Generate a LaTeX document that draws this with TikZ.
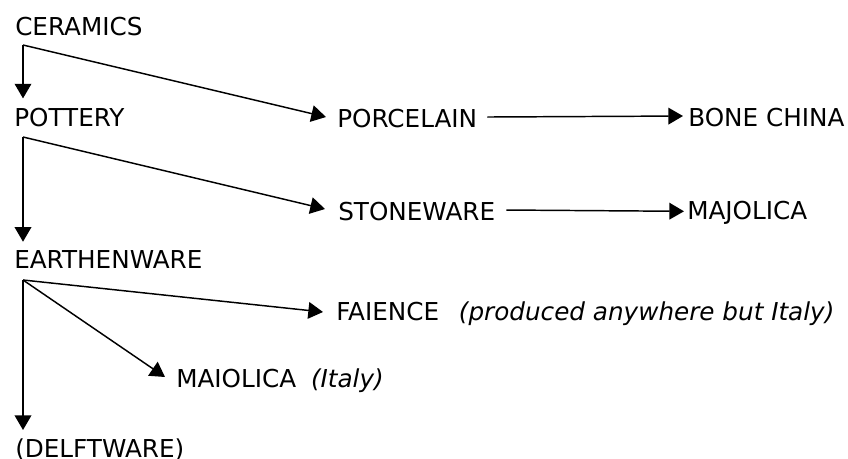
\documentclass[tikz,border=0pt]{standalone}
\usepackage{fontspec}
\setmainfont{DejaVu Sans}
\usetikzlibrary{arrows.meta,calc}
\tikzset{
  term/.style={anchor=base west, inner sep=0pt, font=\fontsize{18.5}{22}\selectfont},
  arr/.style={-{Triangle[length=11pt, width=12.5pt]}, line width=1.1pt}
}

\begin{document}
\begin{tikzpicture}[x=0.75pt, y=-0.75pt]
\useasboundingbox (0,0) rectangle (848,459);
% left column
\node[term] (cer) at (15,36) {CERAMICS};
\node[term] (pot) at (14,127) {POTTERY};
\node[term] (earth) at (14,268) {EARTHENWARE};
\node[term] (delft) at (15,457) {(DELFTWARE)};
% branches
\node[term] (por) at (337,128) {PORCELAIN};
\node[term] (bone) at (688,127) {BONE CHINA};
\node[term] (stone) at (338,221) {STONEWARE};
\node[term] (maj) at (687,220) {MAJOLICA};
\node[term] (fai) at (336,320) {FAIENCE\hspace{0.8em}\textit{(produced anywhere but Italy)}};
\node[term] (mai) at (176,387) {MAIOLICA\hspace{0.6em}\textit{(Italy)}};
% corners the arrows leave from
\coordinate (cer-o) at ($(cer.base west)+(8,9)$);
\coordinate (pot-o) at ($(pot.base west)+(9,10)$);
\coordinate (earth-o) at ($(earth.base west)+(9,12)$);
% arrows
\draw[arr] (cer-o) -- ($(cer-o |- pot.north)+(0,-10)$);
\draw[arr] (cer-o) -- ($(por.west)+(-11,-2)$);
\draw[arr] ($(por.east)+(10,-2)$) -- ($(bone.west)+(-5,-2)$);
\draw[arr] (pot-o) -- ($(pot-o |- earth.north)+(0,-8)$);
\draw[arr] (pot-o) -- ($(stone.west)+(-13,-3)$);
\draw[arr] ($(stone.east)+(11,-2)$) -- ($(maj.west)+(-3,-2)$);
\draw[arr] (earth-o) -- ($(fai.base west)+(-13,-8)$);
\draw[arr] (earth-o) -- ($(mai.base west)+(-11,-10)$);
\draw[arr] (earth-o) -- ($(earth-o |- delft.north)+(0,-8)$);
\end{tikzpicture}
\end{document}
